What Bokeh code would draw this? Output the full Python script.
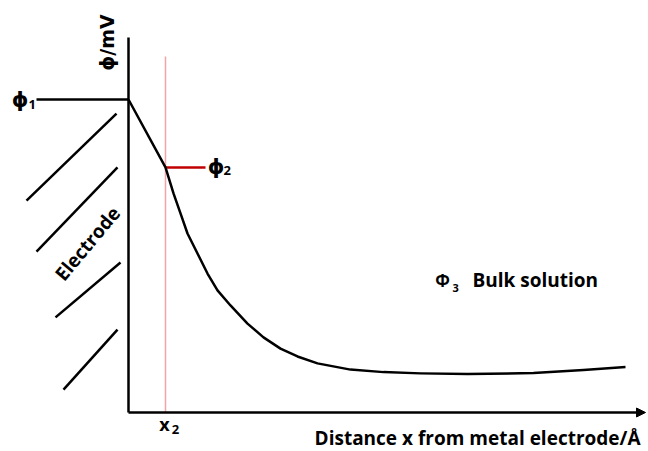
import math
from bokeh.plotting import figure
from bokeh.models import Arrow, NormalHead, Range1d
from bokeh.core.properties import value
from bokeh.embed import file_html
from bokeh.resources import INLINE

# ---- data (x in Å, potential in mV, schematic) ----
curve_x = [0, 9.25, 11.25, 13.0, 14.75, 17.25, 19.75, 22.25, 25.5, 29.75, 33.75, 38.0, 42.25,
           47.25, 55.5, 63.75, 73, 84.75, 101.25, 113.75, 124.25]
curve_y = [100, 78.3, 70.0, 63.6, 57.2, 50.8, 44.4, 39.0, 34.2, 28.4, 24.0, 20.4, 17.9,
           15.7, 13.7, 12.9, 12.5, 12.3, 12.6, 13.6, 14.5]
x2 = 9.25
phi1 = 100
phi2 = 78.3
phi3_label = "Bulk solution"
x_title = "Distance x from metal electrode/Å"
y_title = "ϕ/mV"
axis_x_end = 129.25
axis_y_end = 119.8

# electrode hatching
hatch_x0 = [-3, -2.75, -2, -2.75]
hatch_y0 = [95.5, 78.3, 47.9, 26.5]
hatch_x1 = [-25.5, -23, -18.25, -16.25]
hatch_y1 = [67.7, 51.4, 30.4, 7.3]

W, H = 648, 451
p = figure(width=W, height=H, output_backend="svg", toolbar_location=None,
           x_range=Range1d(-32, 130), y_range=Range1d(-12.46, 131.63),
           min_border=0, min_border_left=0, min_border_right=0,
           min_border_top=0, min_border_bottom=0)
p.axis.visible = False
p.grid.visible = False
p.outline_line_color = None
p.background_fill_color = "white"
p.border_fill_color = "white"

FONT = value("Open Sans")
PHI_FONT = value("DejaVu Sans")

# pink x2 marker
p.segment(x0=[x2], y0=[0], x1=[x2], y1=[113.7], line_color="#f5a3a8", line_width=1.5)

# axes
p.segment(x0=[0], y0=[0], x1=[0], y1=[axis_y_end], line_color="black", line_width=2.5)
p.add_layout(Arrow(end=NormalHead(size=9, fill_color="black", line_color="black"),
                   x_start=0, y_start=0, x_end=axis_x_end, y_end=0,
                   line_color="black", line_width=2.5))

# phi1 level line
p.segment(x0=[-23], y0=[phi1], x1=[0], y1=[phi1], line_color="black", line_width=2.5)

# phi2 marker (red)
p.segment(x0=[x2], y0=[phi2], x1=[19.25], y1=[phi2], line_color="#c00000", line_width=2.5)

# hatching
p.segment(x0=hatch_x0, y0=hatch_y0, x1=hatch_x1, y1=hatch_y1, line_color="black", line_width=2.5)

# potential curve
p.line(curve_x, curve_y, line_color="black", line_width=2.5, line_join="round")

def txt(x, y, s, size, angle=0, align="center", font=FONT):
    p.text(x=[x], y=[y], text=[s], text_font=font, text_font_size=f"{size}px",
           text_font_style="bold", text_align=align, text_baseline="middle",
           angle=angle, text_color="black")

# labels
txt(-5.5, 118.2, y_title, 19, angle=math.pi / 2, font=PHI_FONT)
txt(-27.1, 100, "ϕ", 21, font=PHI_FONT)
txt(-25.0, 98.4, "1", 13, align="left")
txt(21.9, phi2, "ϕ", 21, font=PHI_FONT)
txt(23.75, 77.3, "2", 13, align="left")
txt(9.0, -3.6, "x", 18)
txt(10.8, -5.4, "2", 13, align="left")
txt(78.5, 42.2, "Φ", 17)
txt(81.0, 39.9, "3", 11, align="left")
txt(86.0, 42.2, phi3_label, 19, align="left")
txt(128.0, -8.3, x_title, 19, align="right")
txt(-10.25, 54, "Electrode", 19, angle=0.873)

open("out.html", "w").write(file_html(p, INLINE))
